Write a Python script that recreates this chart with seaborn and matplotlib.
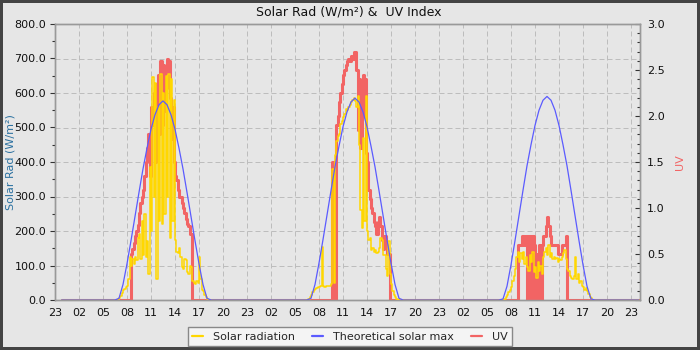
import numpy as np
import pandas as pd
import matplotlib
matplotlib.use("Agg")
import matplotlib.pyplot as plt
import seaborn as sns
from matplotlib.ticker import MultipleLocator, FixedLocator, FormatStrFormatter
from matplotlib.lines import Line2D

sns.set_style("white")
plt.rcParams['font.family'] = ['DejaVu Sans']

# ---------------- data (10-minute samples, W/m² and UV index) ----------------
solar_start = ["07:00", "06:40", "07:00"]
solar_day1 = [5, 12, 20, 28, 32, 38,
              40, 60, 125, 100, 120, 105,
              125, 115, 180, 190, 120, 230,
              130, 250, 125, 170, 75, 385,
              200, 645, 300, 630, 60, 560,
              230, 655, 220, 600, 250, 650,
              300, 655, 180, 640, 230, 580,
              175, 140, 135, 150, 125, 95,
              90, 120, 115, 80, 75, 100,
              95, 55, 50, 45, 55, 50,
              125, 60, 30, 25, 15, 8,
              3, 0]
solar_day2 = [3, 8,
              15, 22, 28, 33, 36, 38,
              38, 40, 155, 40, 38, 40,
              40, 42, 42, 45, 380, 50,
              420, 460, 475, 480, 510, 520,
              530, 540, 555, 550, 560, 565,
              575, 580, 585, 578, 560, 590,
              450, 260, 210, 470, 230, 590,
              200, 175, 180, 145, 150, 140,
              145, 135, 140, 150, 180, 175,
              130, 130, 90, 70, 170, 75,
              45, 25, 15, 8, 3, 0]
solar_day3 = [0, 3, 8, 15, 22, 30,
              38, 55, 70, 90, 125, 140,
              110, 135, 120, 140, 105, 125,
              95, 85, 130, 110, 140, 80,
              95, 65, 110, 85, 100, 75,
              125, 140, 150, 130, 160, 125,
              135, 120, 125, 118, 122, 110,
              120, 115, 125, 135, 145, 120,
              90, 85, 70, 65, 60, 70,
              125, 60, 75, 50, 55, 40,
              38, 30, 35, 25, 18, 10,
              5, 0]

uv_start = ["08:30", "09:30", "08:40"]
uv_day1 = [0.5, 0.55, 0.62,
           0.7, 0.75, 0.82, 0.95, 1.05, 1.12,
           1.2, 1.35, 1.5, 1.65, 1.8, 1.35,
           2.1, 1.9, 2.25, 1.5, 2.35, 2.45,
           1.8, 2.6, 1.9, 2.55, 2.05, 2.3,
           2.62, 2.6, 2.2, 1.75, 2.1, 1.5,
           1.35, 1.3, 1.2, 1.12, 1.12, 1.05,
           1.0, 0.95, 0.88, 0.83, 0.8, 0.72,
           0.72, 0]
uv_day2 = [0, 1.5, 0, 0, 1.9, 2.0, 2.15, 2.25, 2.35,
           2.45, 2.5, 2.55, 2.6, 2.62, 2.6,
           2.65, 2.62, 2.7, 2.7, 2.5, 1.85,
           2.4, 1.65, 2.0, 2.45, 2.4, 1.6,
           1.5, 1.2, 1.1, 1.0, 0.95, 0.85,
           0.8, 0.72, 0.85, 0.9, 0.8, 0.65,
           0.55, 0.7, 0.6, 0.5, 0.5, 0]
uv_day3 = [0, 0.6, 0.6, 0.6, 0.7, 0.7, 0.6, 0.7,
           0, 0.7, 0.7, 0, 0.7, 0.6,
           0, 0.5, 0, 0.6, 0, 0.6,
           0.7, 0.7, 0.8, 0.9, 0.8, 0.7,
           0.6, 0.6, 0.6, 0.6, 0.6, 0.5,
           0.5, 0.5, 0.6, 0.6, 0.6, 0.7,
           0]

# theoretical max, 30-minute samples from 06:30 to 18:30
theo_start = "06:30"
theo_day1 = [0, 5, 45, 105, 172, 242, 312, 380, 440, 495, 537, 566, 577,
             566, 537, 495, 440, 380, 312, 242, 172, 105, 45, 5, 0]
theo_day2 = [0, 5, 45, 107, 175, 246, 317, 386, 446, 502, 545, 574, 585,
             574, 545, 502, 446, 386, 317, 246, 175, 107, 45, 5, 0]
theo_day3 = [0, 3, 40, 102, 172, 245, 318, 389, 450, 506, 550, 579, 590,
             579, 550, 506, 450, 389, 318, 245, 172, 102, 40, 3, 0]

xtick_labels = ["23", "02", "05", "08", "11", "14", "17", "20",
                "23", "02", "05", "08", "11", "14", "17", "20",
                "23", "02", "05", "08", "11", "14", "17", "20", "23"]

# ---------------- build series (hours since 23:00 of first evening) ----------------
def clock(day, hhmm):
    h, m = map(int, hhmm.split(":"))
    return 24 * (day - 1) + 1 + h + m / 60.0

n = 73 * 6 - 5 + 1
t = (np.arange(n) + 5) / 6.0
solar = np.zeros(n)
uv = np.zeros(n)
for d, (s, arr) in enumerate(zip(solar_start, [solar_day1, solar_day2, solar_day3]), 1):
    i0 = int(round(clock(d, s) * 6 - 5))
    solar[i0:i0 + len(arr)] = arr
for d, (s, arr) in enumerate(zip(uv_start, [uv_day1, uv_day2, uv_day3]), 1):
    i0 = int(round(clock(d, s) * 6 - 5))
    uv[i0:i0 + len(arr)] = arr
df = pd.DataFrame({"t": t, "solar": solar, "uv": uv})

tt, tv = [t[0]], [0.0]
for d, arr in enumerate([theo_day1, theo_day2, theo_day3], 1):
    t0 = clock(d, theo_start)
    tt += [t0 + 0.5 * k for k in range(len(arr))]
    tv += list(arr)
tt.append(t[-1]); tv.append(0.0)
dft = pd.DataFrame({"t": tt, "theo": tv})

# ---------------- figure ----------------
BG = "#e6e6e6"
YEL = "#ffd700"
BLU = "#5b5bff"
RED = "#f26464"
SPINE = "#999999"

fig = plt.figure(figsize=(7, 3.5), dpi=100)
fig.patch.set_facecolor(BG)
fig.patch.set_edgecolor("#444444")
fig.patch.set_linewidth(3)

ax_uv = fig.add_axes([55 / 700, 50 / 350, 585 / 700, 276 / 350])
ax_uv.set_facecolor(BG)
ax_sol = ax_uv.twinx()

# UV (drawn underneath)
sns.lineplot(data=df, x="t", y="uv", ax=ax_uv, color=RED, lw=2.2,
             drawstyle="steps-post", estimator=None, legend=False, zorder=3)
# solar + theoretical on top
sns.lineplot(data=df, x="t", y="solar", ax=ax_sol, color=YEL, lw=1.1,
             drawstyle="steps-post", estimator=None, legend=False, zorder=3)
sns.lineplot(data=dft, x="t", y="theo", ax=ax_sol, color=BLU, lw=0.9,
             estimator=None, legend=False, zorder=4)

ax_uv.set_xlim(0, 73.125)
ax_uv.set_ylim(0, 3.0)
ax_sol.set_ylim(0, 800)

# grid (on bottom axes so it stays behind the data)
ax_uv.xaxis.set_major_locator(FixedLocator(np.arange(0, 73, 3)))
ax_uv.xaxis.set_minor_locator(MultipleLocator(1))
ax_uv.set_xticklabels(xtick_labels)
ax_uv.grid(axis="x", which="major", ls=(0, (5, 3)), lw=0.72, color="#bdbdbd", zorder=0)
for v in range(100, 800, 100):
    ax_uv.axhline(v * 3.0 / 800.0, ls=(0, (5, 3)), lw=0.72, color="#bdbdbd", zorder=0)

# swap sides: UV axis to the right, solar axis to the left
ax_uv.yaxis.tick_right()
ax_uv.yaxis.set_label_position("right")
ax_sol.yaxis.tick_left()
ax_sol.yaxis.set_label_position("left")

ax_uv.yaxis.set_major_locator(MultipleLocator(0.5))
ax_uv.yaxis.set_minor_locator(MultipleLocator(0.1))
ax_uv.yaxis.set_major_formatter(FormatStrFormatter("%.1f"))
ax_sol.yaxis.set_major_locator(MultipleLocator(100))
ax_sol.yaxis.set_minor_locator(MultipleLocator(50))
ax_sol.yaxis.set_major_formatter(FormatStrFormatter("%.1f"))

ax_uv.tick_params(axis="x", which="major", direction="out", length=3.5, width=0.8,
                  color="#333333", labelsize=8, labelcolor="#111111", pad=2.5)
ax_uv.tick_params(axis="x", which="minor", direction="out", length=2.0, width=0.8, color="#333333")
ax_uv.tick_params(axis="y", which="major", direction="in", length=3.5, width=0.8,
                  color="#333333", labelsize=8, labelcolor="#111111", pad=5)
ax_uv.tick_params(axis="y", which="minor", direction="in", length=2.0, width=0.8, color="#333333")
ax_sol.tick_params(axis="y", which="major", direction="out", length=3.5, width=0.8,
                   color="#333333", labelsize=8, labelcolor="#111111", pad=3)
ax_sol.tick_params(axis="y", which="minor", direction="out", length=2.0, width=0.8, color="#333333")

ax_uv.set_xlabel("")
ax_sol.set_ylabel("Solar Rad (W/m²)", fontsize=8, color="#2a70a0")
ax_sol.yaxis.set_label_coords((16 - 55) / 585, 0.5)
ax_uv.set_ylabel("UV", fontsize=8, color=RED)
ax_uv.yaxis.set_label_coords((675 - 55) / 585, 0.5)

for ax in (ax_uv, ax_sol):
    for sp in ax.spines.values():
        sp.set_color(SPINE)
        sp.set_linewidth(1.0)

fig.text(348.5 / 700, 1 - 12 / 350, "Solar Rad (W/m²) &  UV Index", ha="center", va="center",
         fontsize=9, color="#111111")

handles = [Line2D([], [], color=YEL, lw=1.6),
           Line2D([], [], color=BLU, lw=1.6),
           Line2D([], [], color=RED, lw=1.6)]
labels = ["Solar radiation", "Theoretical solar max", "UV"]
leg = fig.legend(handles, labels, loc="center", bbox_to_anchor=(350 / 700, 1 - 336.5 / 350),
                 ncol=3, fontsize=8, handlelength=1.0, handletextpad=0.9, columnspacing=1.5,
                 borderpad=0.4, fancybox=False, framealpha=1)
leg.get_frame().set_facecolor("#f4f4f4")
leg.get_frame().set_edgecolor("#888888")
leg.get_frame().set_linewidth(1.0)

fig.savefig("out.png", dpi=100)
